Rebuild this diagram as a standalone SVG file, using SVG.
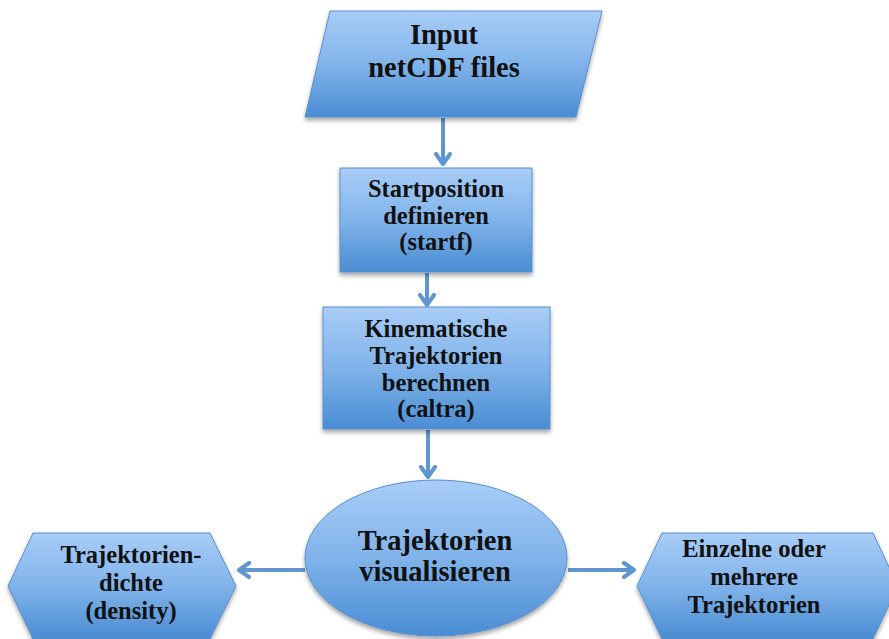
<svg xmlns="http://www.w3.org/2000/svg" width="889" height="639" viewBox="0 0 889 639">
<defs>
<linearGradient id="g" x1="0" y1="0" x2="0" y2="1">
<stop offset="0" stop-color="#a9cdf7"/>
<stop offset="0.5" stop-color="#80b3ea"/>
<stop offset="1" stop-color="#4a8dd3"/>
</linearGradient>
<filter id="sh" x="-10%" y="-10%" width="120%" height="130%">
<feDropShadow dx="0" dy="3" stdDeviation="2" flood-color="#000" flood-opacity="0.35"/>
</filter>
<marker id="ah" viewBox="0 0 14 18" refX="12" refY="9" markerWidth="14" markerHeight="18" markerUnits="userSpaceOnUse" orient="auto">
<path d="M2,2 L12,9 L2,16" fill="none" stroke="#5f96cf" stroke-width="4" stroke-linecap="round" stroke-linejoin="round"/>
</marker>
</defs>
<style>
.shape{fill:url(#g);stroke:#5a8fca;stroke-width:1;filter:url(#sh)}
.conn{fill:none;stroke:#5f96cf;stroke-width:4;marker-end:url(#ah)}
text{font-family:"Liberation Serif","Times New Roman",serif;font-weight:bold;fill:#111;text-anchor:middle}
.s{font-size:24.5px}
.l{font-size:28.5px}
</style>
<rect width="889" height="639" fill="#fff"/>
<g id="connectors">
<path class="conn" d="M443,118 L443,164"/>
<path class="conn" d="M427,273 L427,305"/>
<path class="conn" d="M428,430 L428,477"/>
<path class="conn" d="M305,570 L239,570"/>
<path class="conn" d="M568,570 L634,570"/>
</g>
<g id="input">
<path class="shape" d="M330,11 L602,11 L576,117 L305,117 Z"/>
<text class="l" x="444" y="44">Input</text>
<text class="l" x="444" y="77">netCDF files</text>
</g>
<g id="startf">
<rect class="shape" x="340" y="168" width="192" height="104"/>
<text class="s" x="436" y="197">Startposition</text>
<text class="s" x="436" y="224">definieren</text>
<text class="s" x="436" y="250">(startf)</text>
</g>
<g id="caltra">
<rect class="shape" x="323" y="307" width="227" height="122"/>
<text class="s" x="436" y="337">Kinematische</text>
<text class="s" x="436" y="364">Trajektorien</text>
<text class="s" x="436" y="391">berechnen</text>
<text class="s" x="436" y="417">(caltra)</text>
</g>
<g id="visualisieren">
<ellipse class="shape" cx="436" cy="558" rx="131" ry="78"/>
<text class="l" x="435" y="550">Trajektorien</text>
<text class="l" x="435" y="581">visualisieren</text>
</g>
<g id="density">
<path class="shape" d="M33,533 L210,533 L236,586 L210,639 L33,639 L8,586 Z"/>
<text class="s" x="131" y="563">Trajektorien-</text>
<text class="s" x="131" y="591">dichte</text>
<text class="s" x="131" y="619">(density)</text>
</g>
<g id="einzelne">
<path class="shape" d="M662,533 L873,533 L898,586 L873,639 L662,639 L637,586 Z"/>
<text class="s" x="754" y="557">Einzelne oder</text>
<text class="s" x="754" y="585">mehrere</text>
<text class="s" x="754" y="613">Trajektorien</text>
</g>
</svg>
